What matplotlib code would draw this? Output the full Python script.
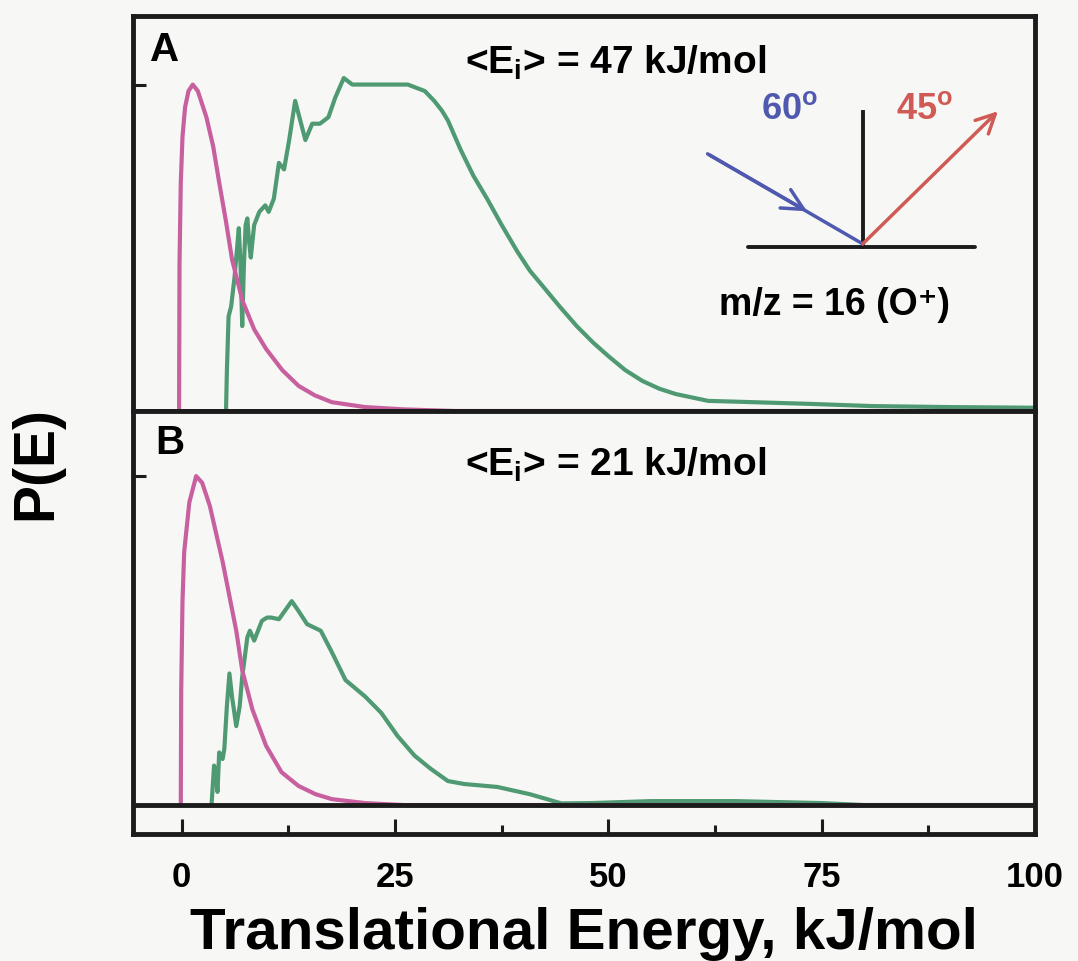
import matplotlib
matplotlib.use('Agg')
from matplotlib import pyplot as plt

plt.rcParams['font.family'] = ['Liberation Sans', 'DejaVu Sans']
plt.rcParams['font.weight'] = 'bold'
plt.rcParams['mathtext.fontset'] = 'custom'
plt.rcParams['mathtext.rm'] = 'Liberation Sans:bold'
plt.rcParams['mathtext.bf'] = 'Liberation Sans:bold'
plt.rcParams['mathtext.it'] = 'Liberation Sans:bold'

# Панель A: <Ei> = 47 кДж/моль
e_pink_a = [-0.3, -0.25, -0.1, 0.1, 0.4, 0.8, 1.3, 1.9, 2.9, 3.7, 4.4, 5.2, 5.9, 7.1,
            8.5, 9.9, 11.8, 13.7, 15.6, 17.6, 21.5, 26, 32, 100]
p_pink_a = [0, 0.45, 0.70, 0.84, 0.93, 0.98, 1.0, 0.98, 0.90, 0.81, 0.70, 0.58, 0.465, 0.34,
            0.25, 0.19, 0.125, 0.077, 0.048, 0.027, 0.012, 0.005, 0.0, 0.0]

e_green_a = [5.2, 5.3, 5.5, 5.8, 6.2, 6.5, 6.7, 6.9, 7.1, 7.3, 7.5, 7.7, 7.9, 8.1, 8.5,
             9.1, 9.8, 10.2, 10.8, 11.4, 12.0, 12.6, 13.3, 13.8, 14.5, 15.3, 16.2, 17.2,
             18.0, 19.0, 20.0, 21.1, 23.4, 26.5, 28.5, 29.6, 30.5, 31.2, 32.7, 34.2, 35.8,
             37.5, 39.3, 40.8, 42.4, 44.3, 46.3, 48.2, 50.1, 52.0, 54.0, 56.0, 57.9, 61.7,
             65.7, 73.4, 81, 90, 100]
p_green_a = [0, 0.12, 0.29, 0.32, 0.41, 0.50, 0.56, 0.45, 0.26, 0.45, 0.57, 0.59, 0.52, 0.47, 0.57,
             0.61, 0.63, 0.61, 0.65, 0.76, 0.74, 0.83, 0.95, 0.90, 0.83, 0.88, 0.88, 0.90,
             0.96, 1.02, 1.0, 1.0, 1.0, 1.0, 0.98, 0.95, 0.92, 0.89, 0.80, 0.72, 0.65,
             0.57, 0.49, 0.43, 0.38, 0.32, 0.26, 0.21, 0.166, 0.125, 0.092, 0.068, 0.052, 0.031,
             0.028, 0.022, 0.015, 0.012, 0.01]

# Панель B: <Ei> = 21 кДж/моль
e_pink_b = [-0.1, -0.05, 0.1, 0.3, 0.9, 1.7, 2.4, 3.3, 4.8, 6.4, 7.1, 8.3, 9.9, 11.7,
            13.7, 15.7, 17.6, 21.5, 26, 100]
p_pink_b = [0, 0.35, 0.62, 0.77, 0.92, 1.0, 0.98, 0.91, 0.74, 0.53, 0.41, 0.29, 0.18, 0.10,
            0.058, 0.033, 0.018, 0.006, 0.0, 0.0]

e_green_b = [3.5, 3.8, 4.0, 4.2, 4.4, 4.8, 5.0, 5.3, 5.6, 5.9, 6.4, 6.8, 7.1, 7.7, 8.0, 8.5,
             9.4, 10.0, 10.5, 11.4, 12.9, 13.7, 14.7, 16.3, 17.6, 19.2, 21.5, 23.4, 25.3,
             27.3, 29.2, 31.2, 33.1, 37.0, 40.8, 42.8, 44.5, 48, 55, 65, 75, 80, 100]
p_green_b = [0, 0.12, 0.10, 0.04, 0.16, 0.14, 0.17, 0.30, 0.40, 0.33, 0.24, 0.30, 0.39, 0.51, 0.53, 0.50,
             0.56, 0.57, 0.57, 0.565, 0.62, 0.59, 0.55, 0.53, 0.465, 0.38, 0.33, 0.28, 0.21,
             0.15, 0.11, 0.073, 0.064, 0.055, 0.033, 0.018, 0.005, 0.006, 0.012, 0.012, 0.006, 0.0, 0.0]

x_ticks = [0, 25, 50, 75, 100]
x_minor = [12.5, 37.5, 62.5, 87.5]

pink = '#c8609f'
green = '#4f9a73'
blue = '#5059b0'
red = '#d05a55'
ink = '#1c1c1c'
bg = '#f7f8f5'

W, H = 1078, 962
fig = plt.figure(figsize=(W / 100, H / 100), dpi=100)
fig.patch.set_facecolor(bg)

axA = fig.add_axes([133 / W, 1 - 412 / H, 902 / W, 395 / H])
axB = fig.add_axes([133 / W, 1 - 835 / H, 902 / W, 423 / H], sharex=axA)

for ax in (axA, axB):
    ax.set_facecolor(bg)
    for s in ax.spines.values():
        s.set_linewidth(3.5)
        s.set_color(ink)
    ax.set_yticks([1])
    ax.tick_params(axis='y', direction='in', length=9, width=2.2, color=ink,
                   labelleft=False, right=False)

axA.set_xlim(-5.7, 99.2)
axA.set_ylim(0, 1.21)
axB.set_ylim(-0.088, 1.198)

axA.plot(e_green_a, p_green_a, color=green, lw=3, solid_joinstyle='round')
axA.plot(e_pink_a, p_pink_a, color=pink, lw=3, solid_joinstyle='round')
axB.plot(e_green_b, p_green_b, color=green, lw=3, solid_joinstyle='round')
axB.plot(e_pink_b, p_pink_b, color=pink, lw=3, solid_joinstyle='round')
axB.axhline(0, color=ink, lw=3.5)

axA.tick_params(axis='x', bottom=False, labelbottom=False, top=False)
axB.set_xticks(x_ticks)
axB.set_xticks(x_minor, minor=True)
axB.tick_params(axis='x', which='major', direction='in', length=11, width=2.2, color=ink,
                pad=19, labelsize=25, top=False)
axB.tick_params(axis='x', which='minor', direction='in', length=6.5, width=2.2, color=ink,
                top=False)
for lab in axB.get_xticklabels():
    lab.set_fontweight('bold')
axB.set_xlabel('Translational Energy, kJ/mol', fontsize=42, fontweight='bold', labelpad=9)

fig.text(36 / W, 1 - 463 / H, 'P(E)', rotation=90, fontsize=41, fontweight='bold',
         ha='center', va='center')

# подписи панелей
axA.text(0.035, 0.916, 'A', transform=axA.transAxes, fontsize=29, fontweight='bold',
         ha='center', va='center')
axB.text(0.041, 0.927, 'B', transform=axB.transAxes, fontsize=29, fontweight='bold',
         ha='center', va='center')
axA.text(0.535, 0.883, r'<E$_{\rm i}$> = 47 kJ/mol', transform=axA.transAxes, fontsize=28,
         fontweight='bold', ha='center', va='center')
axB.text(0.535, 0.876, r'<E$_{\rm i}$> = 21 kJ/mol', transform=axB.transAxes, fontsize=28,
         fontweight='bold', ha='center', va='center')

# схема рассеяния: поверхность, нормаль, падающий и отражённый пучки
tA = axA.transAxes
axA.plot([0.682, 0.933], [0.415, 0.415], color=ink, lw=2.8, transform=tA,
         solid_capstyle='round')
axA.plot([0.809, 0.809], [0.415, 0.757], color=ink, lw=2.8, transform=tA)
axA.plot([0.637, 0.809], [0.651, 0.423], color=blue, lw=2.5, transform=tA,
         solid_capstyle='round')
axA.annotate('', xy=(0.750, 0.502), xytext=(0.637, 0.651), xycoords='axes fraction',
             arrowprops=dict(arrowstyle='->', color=blue, lw=2.5, mutation_scale=38))
axA.annotate('', xy=(0.959, 0.759), xytext=(0.809, 0.423), xycoords='axes fraction',
             arrowprops=dict(arrowstyle='->', color=red, lw=2.5, mutation_scale=34,
                             shrinkA=0, shrinkB=0))
axA.text(0.728, 0.767, r'60$^{\rm o}$', transform=tA, color=blue, fontsize=26,
         fontweight='bold', ha='center', va='center')
axA.text(0.878, 0.767, r'45$^{\rm o}$', transform=tA, color=red, fontsize=26,
         fontweight='bold', ha='center', va='center')
axA.text(0.778, 0.271, 'm/z = 16 (O⁺)', transform=tA, fontsize=27,
         fontweight='bold', ha='center', va='center')

plt.savefig('out.png', dpi=100, facecolor=bg)
